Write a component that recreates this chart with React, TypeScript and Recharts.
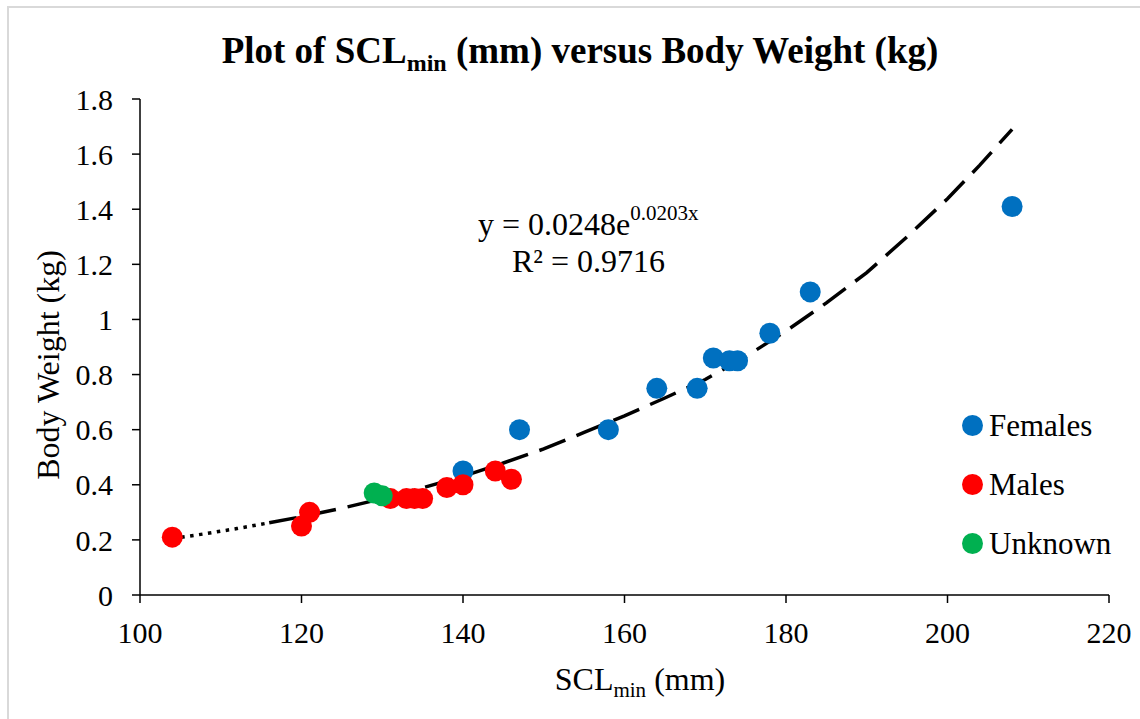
// SCL min vs body weight scatter with exponential trendline

import React from "react";
import { ScatterChart, Scatter, XAxis, YAxis } from "recharts";

const FONT = '"Liberation Serif", "Times New Roman", serif';

// Data
const females = [
  { x: 140, y: 0.45 },
  { x: 147, y: 0.6 },
  { x: 158, y: 0.6 },
  { x: 164, y: 0.75 },
  { x: 169, y: 0.75 },
  { x: 171, y: 0.86 },
  { x: 173, y: 0.85 },
  { x: 174, y: 0.85 },
  { x: 178, y: 0.95 },
  { x: 183, y: 1.1 },
  { x: 208, y: 1.41 },
];

const males = [
  { x: 104, y: 0.21 },
  { x: 120, y: 0.25 },
  { x: 121, y: 0.3 },
  { x: 131, y: 0.35 },
  { x: 133, y: 0.35 },
  { x: 134, y: 0.35 },
  { x: 135, y: 0.35 },
  { x: 138, y: 0.39 },
  { x: 140, y: 0.4 },
  { x: 144, y: 0.45 },
  { x: 146, y: 0.42 },
];

const unknown = [
  { x: 129, y: 0.37 },
  { x: 130, y: 0.36 },
];

// trendline as it is drawn: dotted part, then dashed part
const trendDotted = [
  { x: 104, y: 0.205 },
  { x: 108, y: 0.222 },
  { x: 112, y: 0.241 },
  { x: 116, y: 0.262 },
];

const trendDashed = [
  { x: 116, y: 0.262 },
  { x: 120, y: 0.284 },
  { x: 125, y: 0.315 },
  { x: 130, y: 0.35 },
  { x: 135, y: 0.389 },
  { x: 140, y: 0.431 },
  { x: 145, y: 0.479 },
  { x: 150, y: 0.53 },
  { x: 155, y: 0.59 },
  { x: 160, y: 0.65 },
  { x: 165, y: 0.715 },
  { x: 170, y: 0.782 },
  { x: 175, y: 0.865 },
  { x: 180, y: 0.958 },
  { x: 185, y: 1.06 },
  { x: 190, y: 1.17 },
  { x: 195, y: 1.3 },
  { x: 200, y: 1.438 },
  { x: 204, y: 1.56 },
  { x: 208, y: 1.69 },
];

const xTicks = [100, 120, 140, 160, 180, 200, 220];
const yTicks = [0, 0.2, 0.4, 0.6, 0.8, 1, 1.2, 1.4, 1.6, 1.8];

const seriesNames = ["Females", "Males", "Unknown"];
const seriesColors = ["#0070C0", "#FF0000", "#00B050"];

const dot = (color) => (props) =>
  <circle cx={props.cx} cy={props.cy} r={10.5} fill={color} />;

const noDot = () => <g />;

function LegendBox() {
  return (
    <div
      style={{
        position: "absolute",
        left: 962,
        top: 396,
        width: 170,
        fontFamily: FONT,
        fontSize: 31,
        color: "#000",
      }}
    >
      {seriesNames.map((name, i) => (
        <div
          key={name}
          style={{ display: "flex", alignItems: "center", height: 59 }}
        >
          <span
            style={{
              display: "inline-block",
              width: 21,
              height: 21,
              borderRadius: "50%",
              background: seriesColors[i],
              marginRight: 6,
            }}
          />
          <span>{name}</span>
        </div>
      ))}
    </div>
  );
}

export default function App() {
  return (
    <div
      style={{
        position: "fixed",
        left: 0,
        top: 0,
        width: 1140,
        height: 719,
        background: "#fff",
      }}
    >
      {/* light frame round the chart area */}
      <div
        style={{
          position: "absolute",
          left: 7,
          top: 6,
          width: 1140,
          height: 719,
          borderLeft: "2px solid #d9d9d9",
          borderTop: "2px solid #d9d9d9",
        }}
      />

      <ScatterChart
        width={1140}
        height={719}
        margin={{ top: 99, right: 31, bottom: 64, left: 60 }}
        style={{ position: "absolute", left: 0, top: 0 }}
      >
        <XAxis
          type="number"
          dataKey="x"
          domain={[100, 220]}
          ticks={xTicks}
          interval={0}
          height={60}
          tickSize={8}
          tickMargin={19}
          axisLine={{ stroke: "#000", strokeWidth: 1.5 }}
          tickLine={{ stroke: "#000", strokeWidth: 1.5 }}
          tick={{ fill: "#000", fontFamily: FONT, fontSize: 30 }}
        />
        <YAxis
          type="number"
          dataKey="y"
          domain={[0, 1.8]}
          ticks={yTicks}
          interval={0}
          width={80}
          tickSize={8}
          tickMargin={19}
          axisLine={{ stroke: "#000", strokeWidth: 1.5 }}
          tickLine={{ stroke: "#000", strokeWidth: 1.5 }}
          tick={{ fill: "#000", fontFamily: FONT, fontSize: 30 }}
        />

        <Scatter
          data={trendDotted}
          shape={noDot}
          line={{ stroke: "#000", strokeWidth: 3.5, strokeDasharray: "3.5 5.5" }}
          lineType="joint"
          legendType="none"
          isAnimationActive={false}
        />
        <Scatter
          data={trendDashed}
          shape={noDot}
          line={{ stroke: "#000", strokeWidth: 3.5, strokeDasharray: "28 12" }}
          lineType="joint"
          legendType="none"
          isAnimationActive={false}
        />

        <Scatter
          name="Females"
          data={females}
          fill={seriesColors[0]}
          shape={dot(seriesColors[0])}
          isAnimationActive={false}
        />
        <Scatter
          name="Males"
          data={males}
          fill={seriesColors[1]}
          shape={dot(seriesColors[1])}
          isAnimationActive={false}
        />
        <Scatter
          name="Unknown"
          data={unknown}
          fill={seriesColors[2]}
          shape={dot(seriesColors[2])}
          isAnimationActive={false}
        />
      </ScatterChart>

      <LegendBox />

      {/* titles and trendline equation */}
      <svg
        width={1140}
        height={719}
        style={{ position: "absolute", left: 0, top: 0, pointerEvents: "none" }}
        fontFamily={FONT}
      >
        <text x={580} y={63} textAnchor="middle" fontSize={37} fontWeight="bold">
          Plot of SCL
          <tspan fontSize={24} dy={8}>min</tspan>
          <tspan dy={-8}> (mm) versus Body Weight (kg)</tspan>
        </text>

        <text x={478} y={235} fontSize={32}>
          y = 0.0248e
          <tspan fontSize={21} dy={-15}>0.0203x</tspan>
        </text>
        <text x={512} y={272} fontSize={32}>
          R² = 0.9716
        </text>

        <text x={640} y={690} textAnchor="middle" fontSize={32}>
          SCL
          <tspan fontSize={21} dy={7}>min</tspan>
          <tspan dy={-7}> (mm)</tspan>
        </text>

        <text
          x={0}
          y={0}
          transform="translate(59,365) rotate(-90)"
          textAnchor="middle"
          fontSize={32}
        >
          Body Weight (kg)
        </text>
      </svg>
    </div>
  );
}
